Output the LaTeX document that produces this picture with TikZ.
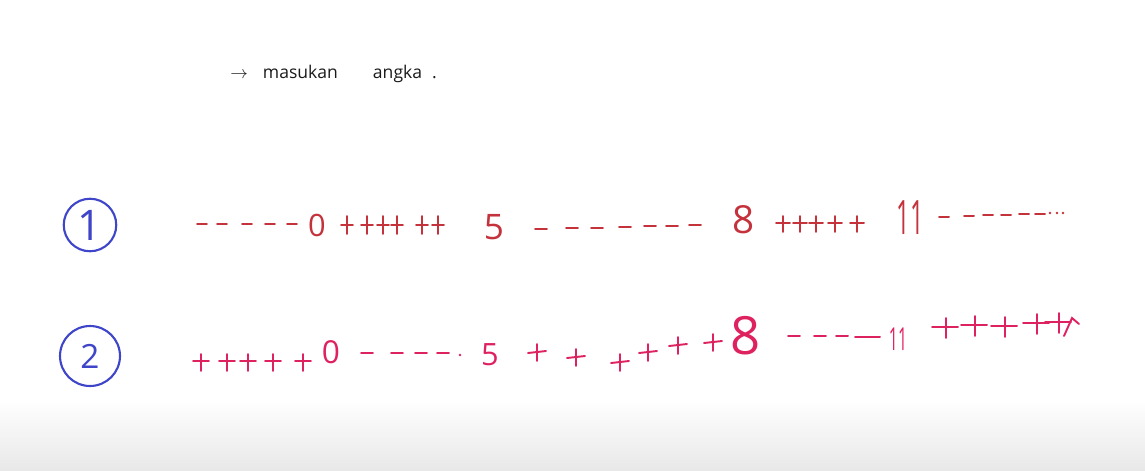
\documentclass[tikz,border=0pt]{standalone}
\usepackage{fontspec}
\setsansfont{Open Sans}
\definecolor{ink}{HTML}{1A1A1A}
\definecolor{penblue}{HTML}{3F45C8}
\definecolor{penred}{HTML}{C4323C}
\definecolor{penpink}{HTML}{DE2260}
\definecolor{fade}{HTML}{E8E8E8}
\tikzset{
  hand/.style={line width=1.1pt,line cap=round},
  ring/.style={circle,draw=penblue,line width=1.2pt,inner sep=0pt,text=penblue},
  digit/.style={font=\sffamily\fontsize{#1}{#1}\selectfont,inner sep=0pt},
  memo/.style={font=\sffamily\fontsize{10}{12}\selectfont,text=ink,inner sep=0pt},
}
\begin{document}
\begin{tikzpicture}[x=0.02cm,y=-0.02cm]
  \useasboundingbox (0,0) rectangle (1145,470);
  \shade[top color=white,bottom color=fade] (0,400) rectangle (1145,470);

  \node[memo,anchor=base west] (memo) at (230,78) {$\to$\hspace{3mm}masukan\hspace{7mm}angka\hspace{2mm}.};

  % row 1
  \node[ring,minimum size=1.05cm,digit=24] (r1) at (90,225) {1};
  \node[digit=17.5,text=penred] (a0) at (317,225) {0};
  \node[digit=20,text=penred] (a5) at (494,227) {5};
  \node[digit=22,text=penred] (a8) at (744,220) {8};
  \node[digit=27,text=penred] (a11) at (910,218) {\scalebox{0.5}[1]{11}};
  \foreach \x in {202,222,247,270,292}
    \draw[hand,penred] (\x-5,224) -- (\x+5,224);
  \foreach \x in {347,367,383,397,422,438}
    \draw[hand,penred] (\x-6,225) -- (\x+6,225) (\x,216) -- (\x,234);
  \foreach \x/\y in {541/229,572/228,597/228,625/227,650/226,672/226,695/225}
    \draw[hand,penred] (\x-6,\y) -- (\x+6,\y);
  \foreach \x in {783,800,816,835,857}
    \draw[hand,penred] (\x-7,223) -- (\x+7,223) (\x,216) -- (\x,232);
  \foreach \x/\y in {944/217,969/216,988/215,1006/215,1024/214,1040/214}
    \draw[hand,penred] (\x-5,\y) -- (\x+5,\y);
  \foreach \x in {1050,1057,1063}
    \fill[penred] (\x,213) circle (0.8pt);

  % row 2
  \node[ring,minimum size=1.2cm,digit=19] (r2) at (90,356) {2};
  \node[digit=18,text=penpink] (b0) at (331,352) {0};
  \node[digit=17.5,text=penpink] (b5) at (490,355) {5};
  \node[digit=30,text=penpink] (b8) at (746,336) {8};
  \node[digit=18,text=penpink] (b11) at (898,339) {\scalebox{0.5}[1]{11}};
  \foreach \x in {201,227,248,273,303}
    \draw[hand,penpink] (\x-8,361) -- (\x+8,361) (\x,354) -- (\x,371);
  \foreach \x in {367,397,421,443}
    \draw[hand,penpink] (\x-6,353) -- (\x+6,353);
  \fill[penpink] (460,355) circle (0.8pt);
  \foreach \x/\y in {537/352,576/357,620/362,648/352,678/345,713/342}
    \draw[hand,penpink] (\x-9,\y+1) -- (\x+9,\y-1) (\x,\y-8) -- (\x,\y+9);
  \foreach \x/\y in {794/336,820/336,842/336}
    \draw[hand,penpink] (\x-6,\y) -- (\x+6,\y);
  \draw[hand,penpink] (855,337) -- (880,337);
  \foreach \x/\y in {946/327,975/325,1005/326,1037/323,1059/322}
    \draw[hand,penpink] (\x-14,\y) -- (\x+12,\y) (\x,\y-9) -- (\x,\y+11);
  \draw[hand,penpink] (1064,336) -- (1072,318) -- (1079,324);
\end{tikzpicture}
\end{document}
